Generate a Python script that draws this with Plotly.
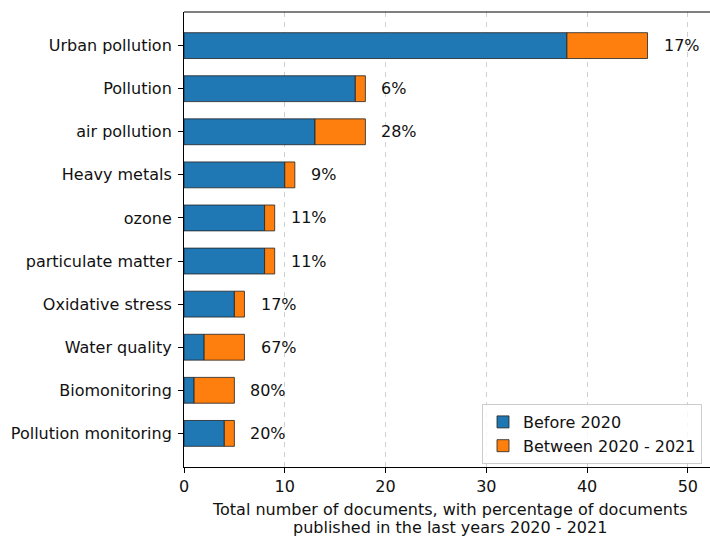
import plotly.graph_objects as go

categories = ["Urban pollution", "Pollution", "air pollution", "Heavy metals", "ozone",
              "particulate matter", "Oxidative stress", "Water quality", "Biomonitoring",
              "Pollution monitoring"]
before_2020 = [38, 17, 13, 10, 8, 8, 5, 2, 1, 4]
between_2020_2021 = [8, 1, 5, 1, 1, 1, 1, 4, 4, 1]
pct_labels = ["17%", "6%", "28%", "9%", "11%", "11%", "17%", "67%", "80%", "20%"]
xlabel_lines = ["Total number of documents, with percentage of documents",
                "published in the last years 2020 - 2021"]

FONT = "DejaVu Sans"
FS = 16
fig = go.Figure()
fig.add_trace(go.Bar(y=categories, x=before_2020, orientation="h", name="Before 2020",
                     marker=dict(color="#1f77b4", line=dict(color="#222", width=0.8)), width=0.6))
fig.add_trace(go.Bar(y=categories, x=between_2020_2021, orientation="h", name="Between 2020 - 2021",
                     base=before_2020,
                     marker=dict(color="#ff7f0e", line=dict(color="#222", width=0.8)), width=0.6))

for c, b, d, p in zip(categories, before_2020, between_2020_2021, pct_labels):
    fig.add_annotation(x=b + d + 1.4, y=c, text=p, showarrow=False, xanchor="left",
                       yanchor="middle", font=dict(family=FONT, size=FS, color="#111"))

for i, line in enumerate(xlabel_lines):
    fig.add_annotation(xref="paper", yref="paper", x=(450 - 184) / 526, y=0,
                       yshift=-(42 + 18 * i),
                       text=line, showarrow=False, xanchor="center", yanchor="middle",
                       font=dict(family=FONT, size=FS, color="#111"))

# top border line
fig.add_shape(type="line", xref="paper", yref="paper", x0=0, x1=1, y0=1, y1=1,
              line=dict(color="black", width=1))

fig.update_layout(
    width=710, height=539,
    margin=dict(l=184, r=0, t=12, b=72, autoexpand=False),
    barmode="overlay",
    plot_bgcolor="white", paper_bgcolor="white",
    font=dict(family=FONT, size=FS, color="#111"),
    showlegend=True,
    legend=dict(x=(482 - 184) / 526, y=(467 - 404) / 455, xanchor="left", yanchor="top",
                bgcolor="rgba(255,255,255,0.8)", bordercolor="#cccccc", borderwidth=1,
                font=dict(family=FONT, size=FS), itemwidth=30, tracegroupgap=0),
    xaxis=dict(range=[0, 52.2], tickvals=[0, 10, 20, 30, 40, 50], showgrid=True,
               gridcolor="#d0d0d0", griddash="5px,5px", gridwidth=1, zeroline=False,
               showline=True, linecolor="black", linewidth=1, ticks="outside",
               ticklen=5, tickcolor="black", ticklabelstandoff=0),
    yaxis=dict(type="category", categoryorder="array", categoryarray=categories,
               range=[9.78, -0.78], showgrid=False, zeroline=False, showline=True,
               linecolor="black", linewidth=1, ticks="outside", ticklen=5,
               tickcolor="black", ticklabelstandoff=3),
)

fig.write_html("out.html")
